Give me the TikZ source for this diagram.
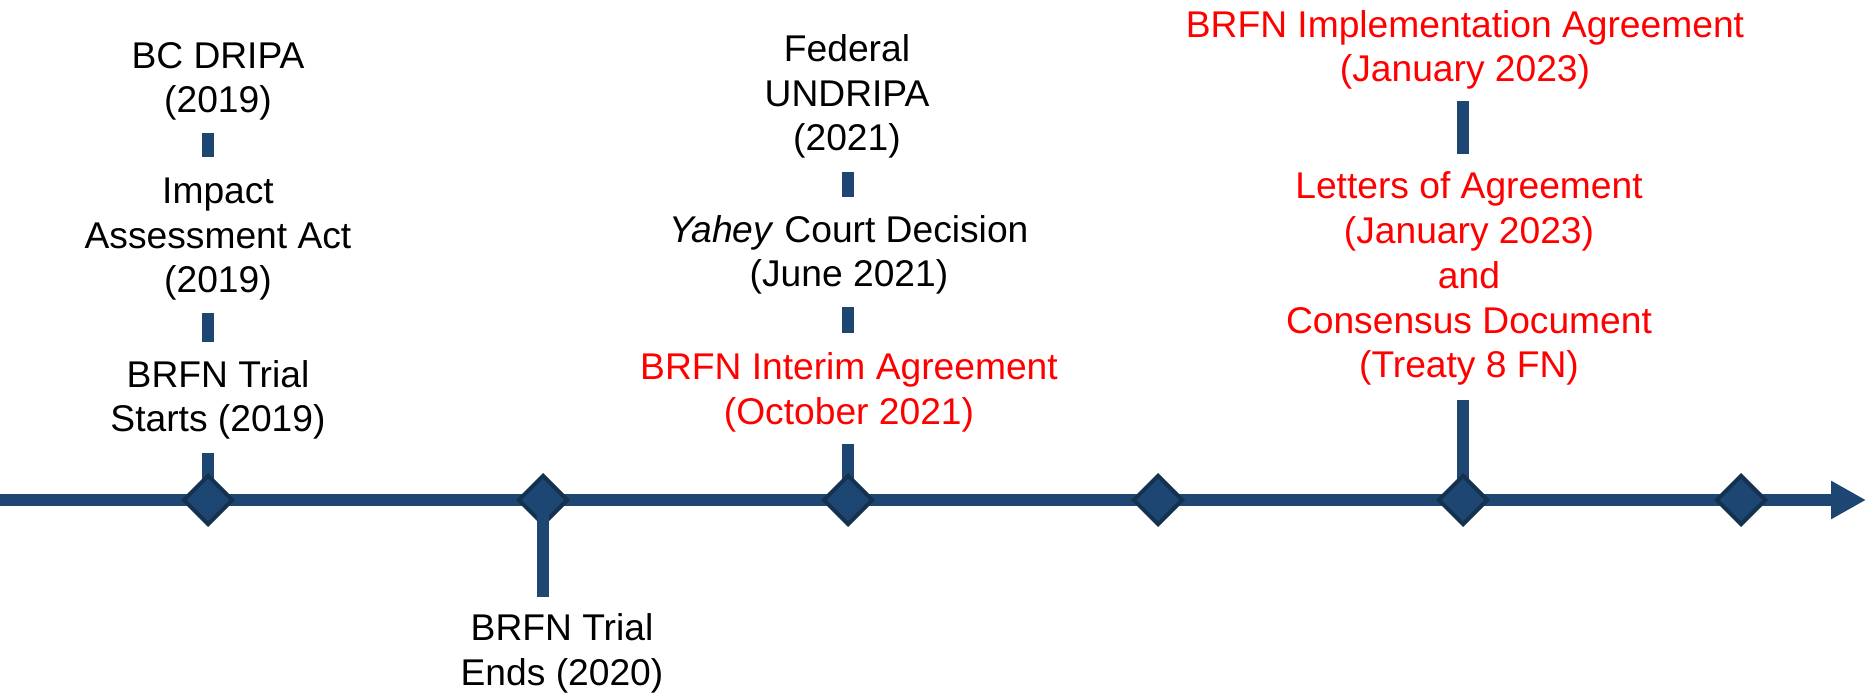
\documentclass[tikz,border=0pt]{standalone}
\usepackage{fontspec}
\setmainfont{Liberation Sans}
\usetikzlibrary{arrows.meta,shapes.geometric}
\definecolor{lineblue}{HTML}{1D4672}
\definecolor{edgeblue}{HTML}{14324F}
\definecolor{evred}{HTML}{FF0000}
\tikzset{
  event/.style={align=center, anchor=base, inner sep=0pt, font=\fontsize{18.6}{22.4}\selectfont},
  redevent/.style={event, text=evred},
  stub/.style={lineblue, line width=6pt}
}
\begin{document}
\begin{tikzpicture}[x=0.5pt,y=-0.5pt]
                \useasboundingbox (0,0) rectangle (1876,695);
                \draw [lineblue, line width=6pt, -{Triangle[length=17.5pt,width=18pt]}] (0,500) -- (1866,500);
                \foreach \n/\x in {1/208,2/543,3/848,4/1158,5/1463,6/1741}{
                    \coordinate (t\n) at (\x,500);
                }
                \draw [stub] (t1 |- 0,133) -- (t1 |- 0,157);
                \draw [stub] (t1 |- 0,313) -- (t1 |- 0,342);
                \draw [stub] (t1 |- 0,453) -- (t1);
                \draw [stub] (t3 |- 0,172) -- (t3 |- 0,197);
                \draw [stub] (t3 |- 0,307) -- (t3 |- 0,333);
                \draw [stub] (t3 |- 0,444) -- (t3);
                \draw [stub] (t5 |- 0,101) -- (t5 |- 0,154);
                \draw [stub] (t5 |- 0,400) -- (t5);
                \foreach \n in {1,...,6}{
                    \node [diamond, draw=edgeblue, fill=lineblue, line width=2pt, inner sep=0pt, minimum size=25pt] (d\n) at (t\n) {};
                }
                \draw [stub] (d2.center) -- (t2 |- 0,597);
                \node [event] (dripa) at (218,113) {BC DRIPA\\(2019)};
                \node [event] (iaa) at (218,293) {Impact\\Assessment Act\\(2019)};
                \node [event] (trialstart) at (218,432) {BRFN Trial\\Starts (2019)};
                \node [event] (trialend) at (562,685) {BRFN Trial\\Ends (2020)};
                \node [event] (undripa) at (847,151) {Federal\\UNDRIPA\\(2021)};
                \node [event] (yahey) at (849,287) {\textit{Yahey} Court Decision\\(June 2021)};
                \node [redevent] (interim) at (849,424) {BRFN Interim Agreement\\(October 2021)};
                \node [redevent] (implement) at (1465,82) {BRFN Implementation Agreement\\(January 2023)};
                \node [redevent] (letters) at (1469,378) {Letters of Agreement\\(January 2023)\\and\\Consensus Document\\(Treaty 8 FN)};
            \end{tikzpicture}
\end{document}
